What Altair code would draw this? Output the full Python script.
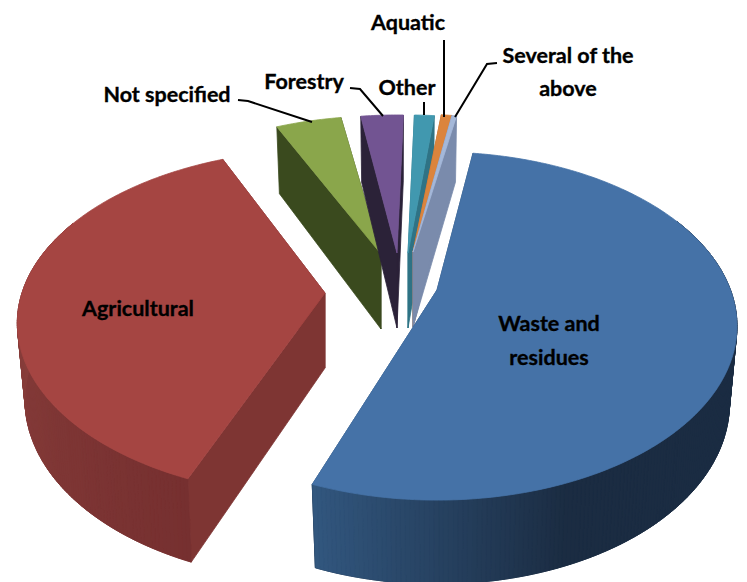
import math
import altair as alt
import pandas as pd

# ---- data ----
categories = ["Waste and residues", "Agricultural", "Not specified", "Forestry", "Other", "Aquatic", "Several of the above"]
shares = [53.2, 37.4, 4.3, 2.8, 1.3, 0.7, 0.3]

# ---- styling / layout ----
START_DEG = 8.5
ROT = [0, 2.3, 0.4, 1.3, 1.3, 1.8, 1.8]
TOPS = ["#4572a7", "#a54542", "#8aa64b", "#725492", "#4198af", "#db843d", "#a4b8d9"]
CUTS = ["#2f5176", "#7e3533", "#3a4a1e", "#2b2238", "#2f7385", "#a8642c", "#7a8bac"]
APEX = [(437, 290), (325, 293), (381, 254), (397, 253), (408, 253), (413, 252), (413, 252)]
DRAW_ORDER = [2, 3, 4, 5, 6, 1, 0]
SHAPE = [(166.6, 293.5, 0.207), (168.5, 303, 0.174)] + [(166.6, 293.5, 0.207)] * 5


def project(i, deg, bottom=False):
    t = math.radians(deg)
    X, Y = math.sin(t), math.cos(t)
    A, B, K = SHAPE[i]
    w = 1 + K * Y
    dx, dy = B * X / w, -A * Y / w
    ax, ay = APEX[i]
    if bottom:
        return [ax + dx * 0.975, ay + dy + 75 - 9 * Y]
    return [ax + dx, ay + dy]


def hex_mix(c1, c2, f):
    f = min(1.0, max(0.0, f))
    p = [int(c1[i:i + 2], 16) for i in (1, 3, 5)]
    q = [int(c2[i:i + 2], 16) for i in (1, 3, 5)]
    return "#%02x%02x%02x" % tuple(round(a + (b - a) * f) for a, b in zip(p, q))


def wall_colour(i, d):
    if i == 0:
        return hex_mix("#32577f", "#1b2c42", (200 - d) / 41)
    if i == 1:
        return hex_mix("#763030", "#8c403d", (d - 202) / 80)
    return CUTS[i]


def poly(points, fill):
    ring = [list(p) for p in points] + [list(points[0])]
    return {"type": "Feature", "geometry": {"type": "Polygon", "coordinates": [ring]},
            "properties": {"fill": fill}}


total = sum(shares)
bounds, a = [], START_DEG
for k, v in enumerate(shares):
    span = v / total * 360
    bounds.append((a + ROT[k], a + ROT[k] + span))
    a += span

features = []
for i in DRAW_ORDER:
    a0, a1 = bounds[i]
    n = max(4, int((a1 - a0) / 0.75))
    degs = [a0 + (a1 - a0) * j / n for j in range(n + 1)]
    base = [APEX[i][0], APEX[i][1] + 75]
    # cut faces
    for d in (a1, a0):
        features.append(poly([project(i, d), project(i, d, bottom=True), base, list(APEX[i])], CUTS[i]))
    # outer wall: a backing, then shaded strips
    vis = [d for d in degs if math.cos(math.radians(d)) < 0.45]
    if len(vis) > 1:
        features.append(poly([project(i, d) for d in vis] + [project(i, d, bottom=True) for d in reversed(vis)],
                             wall_colour(i, vis[len(vis) // 2])))
        for d0, d1 in zip(vis[:-1], vis[1:]):
            features.append(poly([project(i, d0), project(i, d1),
                                  project(i, d1, bottom=True), project(i, d0, bottom=True)],
                                 wall_colour(i, (d0 + d1) / 2)))
    # top face
    features.append(poly([list(APEX[i])] + [project(i, d) for d in degs], TOPS[i]))

leaders = [
    [(238, 100), (248, 101), (312, 122)],
    [(350, 88), (360, 89), (383, 116)],
    [(424, 102), (424, 115)],
    [(444, 40), (444, 117)],
    [(497, 63), (487, 64), (455, 117)],
]
line_features = [{"type": "Feature", "geometry": {"type": "LineString", "coordinates": [list(p) for p in l]},
                  "properties": {}} for l in leaders]

labels = pd.DataFrame({
    "x": [138, 549, 549, 167, 304, 407, 408, 568, 568],
    "y": [310, 325, 359, 96, 83, 89, 24, 57, 90],
    "t": ["Agricultural", "Waste and", "residues", "Not specified", "Forestry", "Other", "Aquatic", "Several of the", "above"],
})

proj = dict(type="identity", scale=1, translate=[-8, -8])

slices = alt.Chart(alt.Data(values=features)).mark_geoshape(strokeWidth=0.8).encode(
    fill=alt.Fill("properties.fill:N", scale=None),
    stroke=alt.Stroke("properties.fill:N", scale=None),
).project(**proj)

lines = alt.Chart(alt.Data(values=line_features)).mark_geoshape(
    filled=False, stroke="black", strokeWidth=2
).project(**proj)

text = alt.Chart(labels).mark_text(
    font="Lato", fontWeight="bold", fontSize=21.5, color="black", stroke="black", strokeWidth=0.35
).encode(
    x=alt.X("x:Q", scale=alt.Scale(domain=[8, 739]), axis=None),
    y=alt.Y("y:Q", scale=alt.Scale(domain=[582, 8]), axis=None),
    text="t:N",
)

chart = alt.layer(slices, lines, text).properties(
    width=731, height=574, padding=0, autosize="none", background="white"
).configure_view(stroke=None)

chart.save("out.html", embed_options={"renderer": "svg", "actions": False})
